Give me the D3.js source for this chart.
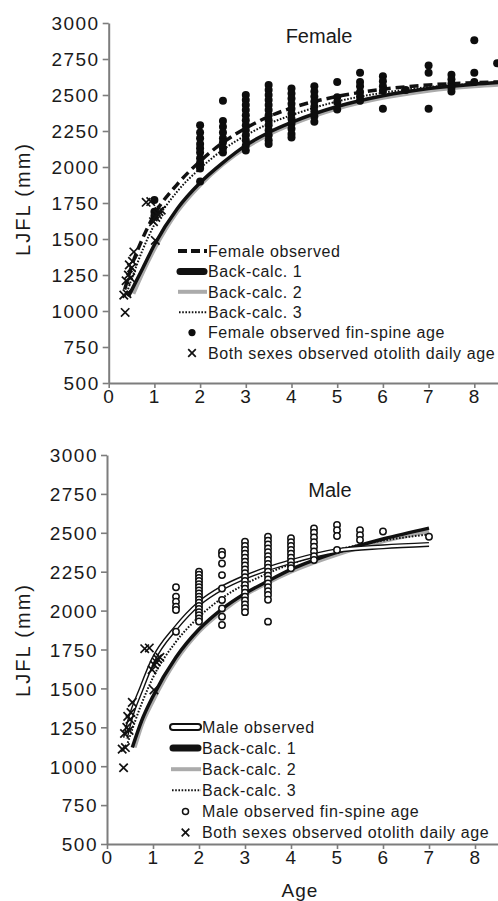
<!DOCTYPE html>
<html>
<head>
<meta charset="utf-8">
<script src="https://cdn.jsdelivr.net/npm/d3@7"></script>
<style>
  body { margin: 0; background: #fff; }
  svg { display: block; }
  text { font-family: "Liberation Sans", Arial, sans-serif; fill: #1a1a1a; }
  .tick text { font-size: 19px; letter-spacing: 1.5px; }
  .legend text { font-size: 16px; letter-spacing: 0.6px; }
</style>
</head>
<body>
<div id="chart"></div>
<script>
// ---- data ----
var ageTicks = [0, 1, 2, 3, 4, 5, 6, 7, 8];
var lenTicks = [500, 750, 1000, 1250, 1500, 1750, 2000, 2250, 2500, 2750, 3000];

// growth curves, [age, LJFL]
var femaleObserved = [[0.35,1150],[0.5,1310],[0.75,1510],[1,1670],[1.5,1880],[2,2040],[2.5,2170],[3,2270],[3.5,2350],[4,2410],[5,2490],[6,2540],[7,2570],[8,2585],[8.6,2592]];
var femaleBack1 = [[0.43,1100],[0.75,1300],[1,1460],[1.5,1710],[2,1890],[2.5,2030],[3,2150],[3.5,2240],[4,2310],[5,2420],[6,2495],[7,2545],[8,2575],[8.6,2588]];
var femaleBack2 = [[0.54,1120],[0.75,1270],[1,1430],[1.5,1690],[2,1875],[2.5,2020],[3,2135],[3.5,2225],[4,2295],[5,2405],[6,2480],[7,2530],[8,2560],[8.6,2572]];
var femaleBack3 = [[0.4,1130],[0.75,1430],[1,1600],[1.5,1830],[2,1990],[2.5,2120],[3,2220],[3.5,2300],[4,2360],[5,2455],[6,2515],[7,2555],[8,2578],[8.6,2588]];

var maleObserved = [[0.4,1180],[0.5,1300],[0.75,1500],[1,1680],[1.5,1890],[2,2045],[2.5,2145],[3,2215],[3.5,2270],[4,2315],[5,2385],[6,2410],[7,2425]];
var maleBack1 = [[0.55,1120],[0.75,1290],[1,1450],[1.5,1700],[2,1880],[2.5,2010],[3,2110],[3.5,2190],[4,2265],[5,2375],[6,2460],[7,2530]];
var maleBack2 = [[0.6,1120],[0.75,1260],[1,1420],[1.5,1680],[2,1865],[2.5,1995],[3,2100],[3.5,2180],[4,2250],[5,2360],[6,2445],[7,2510]];
var maleBack3 = [[0.45,1150],[0.75,1400],[1,1570],[1.5,1800],[2,1960],[2.5,2080],[3,2170],[3.5,2240],[4,2300],[5,2390],[6,2450],[7,2490]];

// fin-spine ages, [age, [LJFL values]]
var femaleSpine = [
  [1, [1770, 1690, 1660]],
  [2, [2290, 2240, 2200, 2160, 2130, 2100, 2060, 2030, 2000, 1990, 1900]],
  [2.5, [2460, 2320, 2280, 2240, 2200, 2170, 2130, 2100]],
  [3, [2500, 2465, 2430, 2395, 2360, 2325, 2290, 2255, 2220, 2185, 2150, 2115]],
  [3.5, [2570, 2535, 2500, 2465, 2430, 2395, 2360, 2325, 2290, 2255, 2220, 2185, 2160]],
  [4, [2545, 2510, 2475, 2440, 2405, 2370, 2335, 2300, 2265, 2230, 2205]],
  [4.5, [2560, 2525, 2490, 2455, 2420, 2385, 2350, 2315]],
  [5, [2590, 2485, 2450, 2400]],
  [5.5, [2655, 2590, 2560, 2520, 2490, 2460]],
  [6, [2630, 2595, 2560, 2530, 2405]],
  [6.5, [2535]],
  [7, [2705, 2655, 2405]],
  [7.5, [2640, 2610, 2580, 2550, 2525]],
  [8, [2880, 2655, 2590]],
  [8.5, [2720]]
];
var maleSpine = [
  [1.5, [2150, 2090, 2057, 2025, 2004, 1864]],
  [2, [2250, 2230, 2210, 2190, 2170, 2150, 2130, 2110, 2090, 2070, 2050, 2030, 2010, 1990, 1970, 1950, 1930]],
  [2.5, [2378, 2357, 2303, 2228, 2142, 2068, 2014, 1961, 1907]],
  [3, [2442, 2415, 2390, 2365, 2340, 2315, 2290, 2265, 2240, 2215, 2190, 2165, 2140, 2115, 2090, 2065, 2040, 2015, 1990]],
  [3.5, [2475, 2450, 2425, 2400, 2375, 2350, 2325, 2300, 2275, 2250, 2225, 2200, 2175, 2150, 2125, 2100, 2070, 1929]],
  [4, [2465, 2440, 2415, 2390, 2365, 2340, 2315, 2290, 2272]],
  [4.5, [2528, 2500, 2470, 2440, 2410, 2380, 2350, 2325]],
  [5, [2550, 2517, 2479, 2389]],
  [5.5, [2517, 2485, 2454]],
  [6, [2508]],
  [7, [2475]]
];

// otolith daily ages, both sexes, [age, LJFL]
var otolith = [[0.36,990],[0.33,1110],[0.40,1120],[0.38,1210],[0.43,1250],[0.45,1320],[0.50,1300],[0.52,1345],[0.55,1410],[0.48,1230],[0.82,1755],[0.92,1760],[1.02,1490],[1.03,1650],[1.10,1690],[0.98,1620],[1.15,1700],[1.07,1670]];

var femaleLegend = ["Female observed", "Back-calc. 1", "Back-calc. 2", "Back-calc. 3", "Female observed fin-spine age", "Both sexes observed otolith daily age"];
var maleLegend = ["Male observed", "Back-calc. 1", "Back-calc. 2", "Back-calc. 3", "Male observed fin-spine age", "Both sexes observed otolith daily age"];

// ---- drawing ----
var svg = d3.select("#chart").append("svg").attr("width", 498).attr("height", 901);

function flatCols(cols) {
  var out = [];
  cols.forEach(function(c) { c[1].forEach(function(v) { out.push([c[0], v]); }); });
  return out;
}

function crossPath(cx, cy, s) {
  return "M" + (cx - s) + "," + (cy - s) + "L" + (cx + s) + "," + (cy + s) +
         "M" + (cx - s) + "," + (cy + s) + "L" + (cx + s) + "," + (cy - s);
}

function drawPanel(o) {
  var g = svg.append("g");
  var xMax = 8.6;
  var x = d3.scaleLinear().domain([0, xMax]).range([o.x0, o.x0 + xMax * o.xu]);
  var y = d3.scaleLinear().domain([500, 3000]).range([o.yBot, o.yTop]);
  var line = d3.line().x(function(d) { return x(d[0]); }).y(function(d) { return y(d[1]); })
    .curve(d3.curveMonotoneX);

  // curves
  g.append("path").attr("d", line(o.back2)).attr("fill", "none")
    .attr("stroke", "#ababab").attr("stroke-width", 4);
  g.append("path").attr("d", line(o.back1)).attr("fill", "none")
    .attr("stroke", "#111").attr("stroke-width", 3.5);
  g.append("path").attr("d", line(o.back3)).attr("fill", "none")
    .attr("stroke", "#111").attr("stroke-width", 2).attr("stroke-dasharray", "1.6,1.6");
  if (o.sex == "female") {
    g.append("path").attr("d", line(o.obs)).attr("fill", "none")
      .attr("stroke", "#111").attr("stroke-width", 3.5).attr("stroke-dasharray", "9,5");
  } else {
    g.append("path").attr("d", line(o.obs)).attr("fill", "none")
      .attr("stroke", "#111").attr("stroke-width", 5);
    g.append("path").attr("d", line(o.obs)).attr("fill", "none")
      .attr("stroke", "#fff").attr("stroke-width", 2.2);
  }

  // spine points
  var pts = flatCols(o.spine);
  if (o.sex == "female") {
    g.selectAll(".dot").data(pts).join("circle")
      .attr("cx", function(d) { return x(d[0]); }).attr("cy", function(d) { return y(d[1]); })
      .attr("r", 4).attr("fill", "#0d0d0d");
  } else {
    g.selectAll(".dot").data(pts).join("circle")
      .attr("cx", function(d) { return x(d[0]); }).attr("cy", function(d) { return y(d[1]); })
      .attr("r", 3.2).attr("fill", "#fff").attr("stroke", "#111").attr("stroke-width", 1.5);
  }

  // otolith crosses
  g.selectAll(".oto").data(otolith).join("path")
    .attr("d", function(d) { return crossPath(x(d[0]), y(d[1]), 4.2); })
    .attr("stroke", "#111").attr("stroke-width", 1.7).attr("fill", "none");

  // axes
  var yAxis = g.append("g").attr("transform", "translate(" + o.x0 + ",0)")
    .call(d3.axisLeft(y).tickValues(lenTicks).tickFormat(d3.format("d"))
      .tickSize(6).tickSizeOuter(0).tickPadding(3));
  var xAxis = g.append("g").attr("transform", "translate(0," + o.yBot + ")")
    .call(d3.axisBottom(x).tickValues(ageTicks).tickFormat(d3.format("d"))
      .tickSize(5).tickSizeOuter(0).tickPadding(2));
  [yAxis, xAxis].forEach(function(a) {
    a.select(".domain").attr("stroke", "#7d7d7d").attr("stroke-width", 2);
    a.selectAll(".tick line").attr("stroke", "#7d7d7d").attr("stroke-width", 1.6);
    a.selectAll(".tick text").attr("fill", "#1a1a1a");
  });
  yAxis.selectAll(".tick text").attr("dy", "0.36em");

  // y title
  g.append("text")
    .attr("transform", "translate(" + o.ytX + "," + o.ytY + ") rotate(-90)")
    .attr("text-anchor", "middle")
    .style("font-size", "20px").style("letter-spacing", "2px")
    .text("LJFL (mm)");

  // panel title
  g.append("text").attr("x", o.titleX).attr("y", o.titleY)
    .attr("text-anchor", "middle").style("font-size", "20px").text(o.title);

  // legend
  var lg = g.append("g").attr("class", "legend");
  var labels = o.legend;
  labels.forEach(function(lab, i) {
    var ly = o.legY + i * o.legStep;
    var x1 = o.legX, x2 = o.legX + o.legW, xm = (x1 + x2) / 2;
    if (i == 0 && o.sex == "female") {
      lg.append("line").attr("x1", x1 + 1).attr("x2", x2).attr("y1", ly).attr("y2", ly)
        .attr("stroke", "#111").attr("stroke-width", 4).attr("stroke-dasharray", "9,4");
    } else if (i == 0) {
      lg.append("line").attr("x1", x1 + 3).attr("x2", x2 - 3).attr("y1", ly).attr("y2", ly)
        .attr("stroke", "#111").attr("stroke-width", 8).attr("stroke-linecap", "round");
      lg.append("line").attr("x1", x1 + 3).attr("x2", x2 - 3).attr("y1", ly).attr("y2", ly)
        .attr("stroke", "#fff").attr("stroke-width", 4).attr("stroke-linecap", "round");
    } else if (i == 1) {
      lg.append("line").attr("x1", x1 + 3).attr("x2", x2 - 3).attr("y1", ly).attr("y2", ly)
        .attr("stroke", "#111").attr("stroke-width", 7).attr("stroke-linecap", "round");
    } else if (i == 2) {
      lg.append("line").attr("x1", x1 + 1).attr("x2", x2).attr("y1", ly).attr("y2", ly)
        .attr("stroke", "#ababab").attr("stroke-width", 4);
    } else if (i == 3) {
      lg.append("line").attr("x1", x1 + 2).attr("x2", x2).attr("y1", ly).attr("y2", ly)
        .attr("stroke", "#111").attr("stroke-width", 2).attr("stroke-dasharray", "1.6,1.6");
    } else if (i == 4 && o.sex == "female") {
      lg.append("circle").attr("cx", xm).attr("cy", ly).attr("r", 3.6).attr("fill", "#0d0d0d");
    } else if (i == 4) {
      lg.append("circle").attr("cx", xm).attr("cy", ly).attr("r", 3).attr("fill", "#fff")
        .attr("stroke", "#111").attr("stroke-width", 1.5);
    } else {
      lg.append("path").attr("d", crossPath(xm, ly, 3.8))
        .attr("stroke", "#111").attr("stroke-width", 1.7);
    }
    lg.append("text").attr("x", x2 + 1).attr("y", ly).attr("dy", "0.36em").text(lab);
  });
}

drawPanel({
  sex: "female", x0: 108.7, xu: 45.7, yBot: 383, yTop: 23,
  obs: femaleObserved, back1: femaleBack1, back2: femaleBack2, back3: femaleBack3,
  spine: femaleSpine, legend: femaleLegend,
  title: "Female", titleX: 319, titleY: 43, ytX: 30, ytY: 199,
  legX: 177, legW: 30, legY: 251, legStep: 20.4
});

drawPanel({
  sex: "male", x0: 107, xu: 46, yBot: 844, yTop: 455,
  obs: maleObserved, back1: maleBack1, back2: maleBack2, back3: maleBack3,
  spine: maleSpine, legend: maleLegend,
  title: "Male", titleX: 330, titleY: 497, ytX: 30, ytY: 640,
  legX: 170, legW: 31, legY: 727, legStep: 21.1
});

// x title
svg.append("text").attr("x", 300).attr("y", 897).attr("text-anchor", "middle")
  .style("font-size", "19px").style("letter-spacing", "1px").text("Age");
</script>
</body>
</html>
